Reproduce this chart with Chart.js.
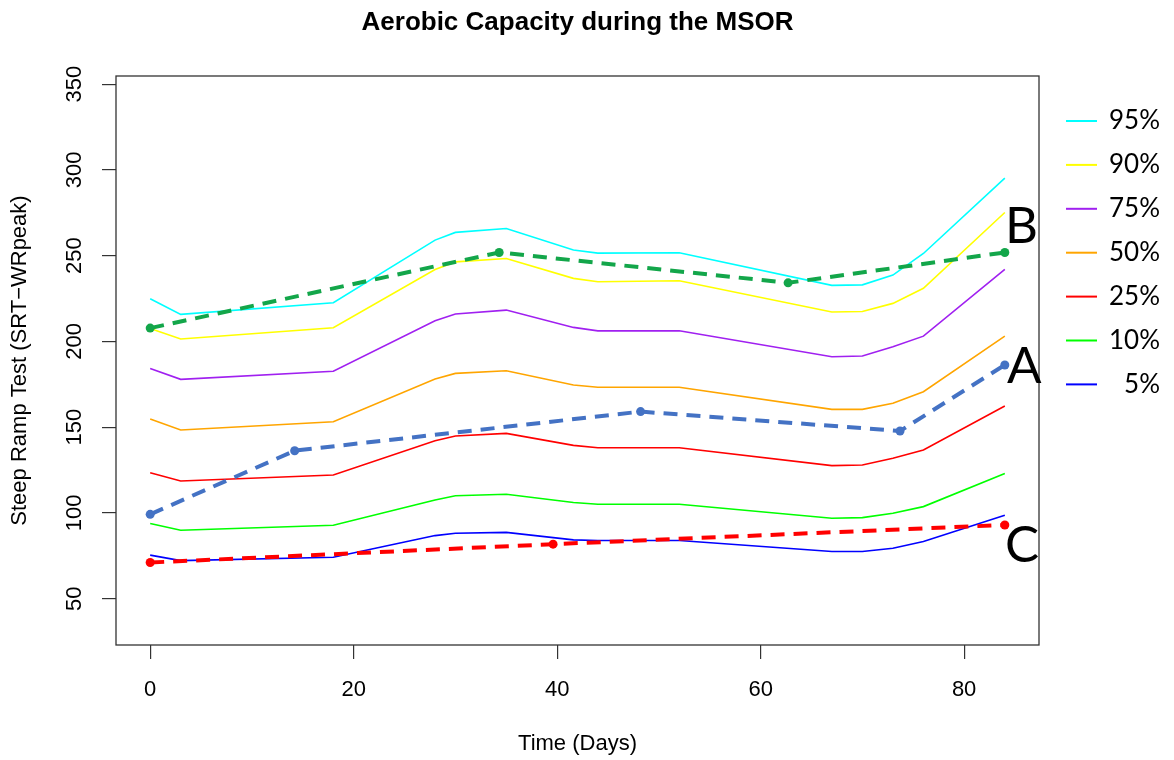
<!DOCTYPE html>
<html>
<head>
<meta charset="utf-8">
<script src="https://cdn.jsdelivr.net/npm/chart.js@4/dist/chart.umd.min.js"></script>
<style>
  html, body { margin: 0; padding: 0; background: #fff; }
  #wrap { width: 1174px; height: 760px; }
</style>
</head>
<body>
<div id="wrap"><canvas id="chart" width="1174" height="760"></canvas></div>
<script>
// percentile reference curves (days on x)
const days = [0, 3, 18, 28, 30, 35, 41.6, 44, 52, 67, 70, 73, 76, 84];
const p95 = [224.9, 215.8, 222.6, 259.1, 263.6, 265.9, 253.3, 251.5, 251.7, 232.7, 233.0, 238.7, 251.3, 295.2];
const p90 = [207.6, 201.4, 208.0, 242.0, 246.4, 248.4, 236.8, 234.8, 235.4, 217.2, 217.5, 222.2, 231.0, 275.2];
const p75 = [184.3, 177.9, 182.6, 212.1, 216.0, 218.3, 208.2, 206.2, 206.2, 191.1, 191.5, 196.9, 203.1, 242.0];
const p50 = [154.8, 148.4, 153.2, 178.1, 181.4, 182.9, 174.6, 173.3, 173.3, 160.4, 160.4, 164.0, 170.7, 203.1];
const p25 = [123.5, 118.6, 122.1, 142.1, 144.9, 146.4, 139.4, 138.0, 138.0, 127.6, 128.0, 131.9, 136.7, 162.4];
const p10 = [93.8, 89.9, 92.8, 107.6, 110.0, 110.9, 106.1, 105.1, 105.1, 96.9, 97.3, 99.8, 103.7, 123.0];
const p5 = [75.4, 72.2, 74.2, 86.8, 88.2, 88.7, 84.3, 83.9, 83.9, 77.5, 77.5, 79.4, 83.3, 98.6];

// individual patients
const daysA = [0, 14.2, 48.2, 73.7, 84];
const valsA = [99.2, 136.3, 159.1, 147.8, 186.3];
const daysB = [0, 34.3, 62.7, 84];
const valsB = [207.8, 251.9, 234.2, 251.9];
const daysC = [0, 39.6, 84];
const valsC = [71.1, 81.8, 93.0];

const xTicks = [0, 20, 40, 60, 80];
const yTicks = [50, 100, 150, 200, 250, 300, 350];

const pctLabels = ["95%", "90%", "75%", "50%", "25%", "10%", "5%"];
const pctColors = ["#00ffff", "#ffff00", "#a020f0", "#ffa500", "#ff0000", "#00ff00", "#0000ff"];
const pctSeries = [p95, p90, p75, p50, p25, p10, p5];

const FONT = "'Liberation Sans', Arial, sans-serif";
const FONT2 = "Lato, 'Open Sans', sans-serif";

function toXY(xs, ys) {
  return xs.map((x, i) => ({ x: x, y: ys[i] }));
}

const datasets = [];

// patient lines (drawn on top)
const patients = [
  { label: "A", xs: daysA, ys: valsA, color: "#4472c4" },
  { label: "B", xs: daysB, ys: valsB, color: "#13a64a" },
  { label: "C", xs: daysC, ys: valsC, color: "#ff0000" },
];
patients.forEach((p) => {
  datasets.push({
    label: p.label,
    data: toXY(p.xs, p.ys),
    borderColor: p.color,
    backgroundColor: p.color,
    borderWidth: 4,
    borderDash: [14, 9],
    pointRadius: 4.5,
    pointBorderWidth: 0,
    tension: 0,
    order: 0,
  });
});

pctSeries.forEach((vals, i) => {
  datasets.push({
    label: pctLabels[i],
    data: toXY(days, vals),
    borderColor: pctColors[i],
    borderWidth: 1.6,
    pointRadius: 0,
    tension: 0,
    order: 1,
  });
});

/** R-style decorations: box, titles, rotated y labels, legend, letters */
const rStyle = {
  id: "rStyle",
  afterDraw(chart) {
    const ctx = chart.ctx;
    const area = chart.chartArea;
    const xs = chart.scales.x;
    const ys = chart.scales.y;

    ctx.save();
    // box
    ctx.strokeStyle = "#333";
    ctx.lineWidth = 1.3;
    ctx.strokeRect(area.left, area.top, area.right - area.left, area.bottom - area.top);

    ctx.fillStyle = "#000";
    const cx = (area.left + area.right) / 2;

    // title
    ctx.font = "bold 26px " + FONT;
    ctx.textAlign = "center";
    ctx.textBaseline = "alphabetic";
    ctx.fillText("Aerobic Capacity during the MSOR", cx, 30);

    // x tick labels
    ctx.font = "22px " + FONT;
    xTicks.forEach((v) => {
      ctx.fillText(String(v), xs.getPixelForValue(v), 696);
    });

    // x title
    ctx.fillText("Time (Days)", cx, 750);

    // y tick labels (rotated)
    ctx.textBaseline = "middle";
    yTicks.forEach((v) => {
      ctx.save();
      ctx.translate(75, ys.getPixelForValue(v));
      ctx.rotate(-Math.PI / 2);
      ctx.fillText(String(v), 0, 0);
      ctx.restore();
    });

    // y title
    ctx.save();
    ctx.translate(20, (area.top + area.bottom) / 2);
    ctx.rotate(-Math.PI / 2);
    ctx.fillText("Steep Ramp Test (SRT\u2212WRpeak)", 0, 0);
    ctx.restore();

    // legend
    ctx.font = "26px " + FONT2;
    ctx.textAlign = "right";
    pctLabels.forEach((lab, i) => {
      const y = 121 + i * 43.9;
      ctx.strokeStyle = pctColors[i];
      ctx.lineWidth = 2;
      ctx.beginPath();
      ctx.moveTo(1066, y);
      ctx.lineTo(1097, y);
      ctx.stroke();
      ctx.fillStyle = "#000";
      ctx.fillText(lab, 1160, y);
    });

    // patient letters
    ctx.font = "51px " + FONT2;
    ctx.textAlign = "left";
    ctx.textBaseline = "alphabetic";
    ctx.fillText("B", 1005, 243);
    ctx.fillText("A", 1007, 383);
    ctx.fillText("C", 1005, 562);
    ctx.restore();
  },
};

new Chart(document.getElementById("chart"), {
  type: "line",
  data: { datasets: datasets },
  options: {
    responsive: false,
    animation: false,
    layout: { padding: { top: 76, right: 135, left: 0, bottom: 0 } },
    plugins: {
      legend: { display: false },
      tooltip: { enabled: false },
    },
    scales: {
      x: {
        type: "linear",
        min: -3.36,
        max: 87.36,
        afterBuildTicks: (s) => { s.ticks = xTicks.map((v) => ({ value: v })); },
        afterFit: (s) => { s.height = 115; },
        ticks: { display: false },
        grid: { drawOnChartArea: false, drawTicks: true, tickLength: 14, color: "#333", lineWidth: 1.2 },
        border: { display: false },
      },
      y: {
        type: "linear",
        min: 23,
        max: 354.8,
        afterBuildTicks: (s) => { s.ticks = yTicks.map((v) => ({ value: v })); },
        afterFit: (s) => { s.width = 116; },
        ticks: { display: false },
        grid: { drawOnChartArea: false, drawTicks: true, tickLength: 14, color: "#333", lineWidth: 1.2 },
        border: { display: false },
      },
    },
  },
  plugins: [rStyle],
});
</script>
</body>
</html>
